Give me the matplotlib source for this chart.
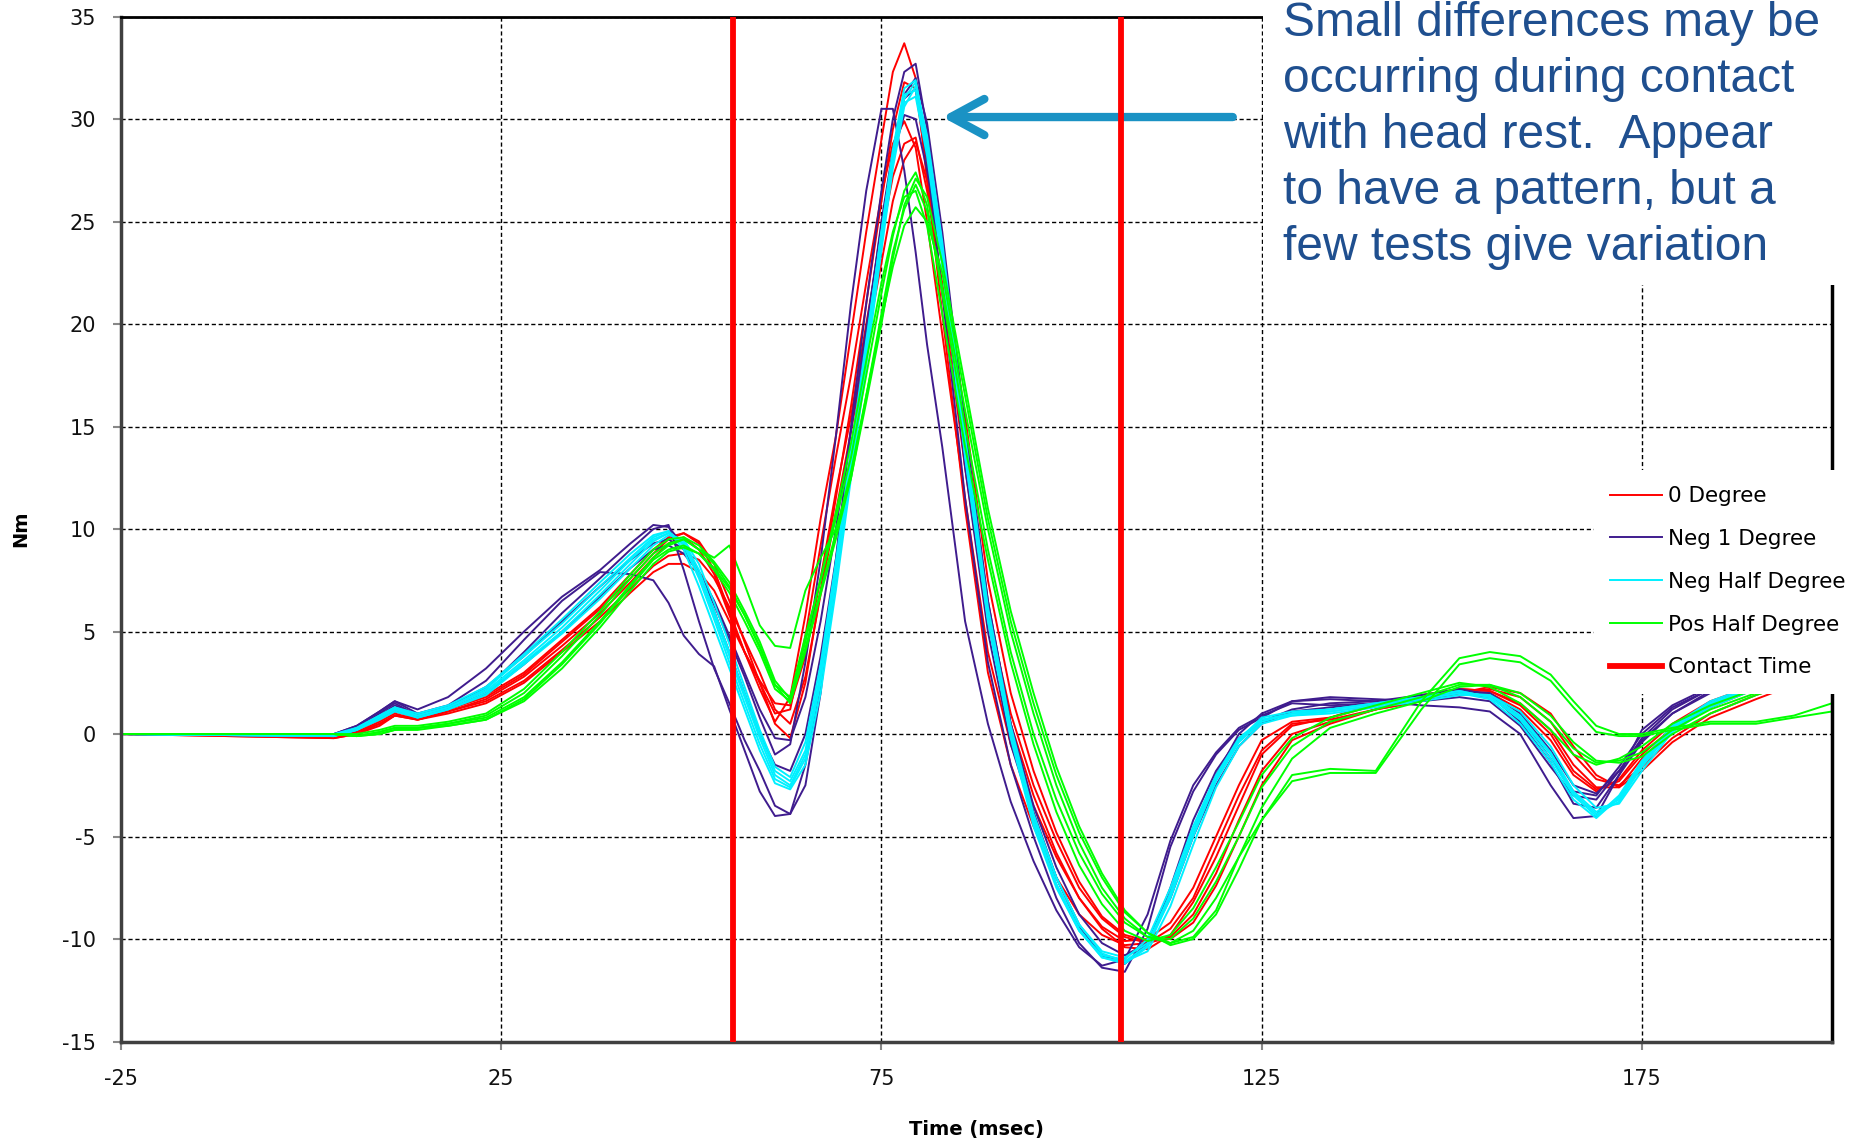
import matplotlib.pyplot as plt
from matplotlib.patches import Rectangle

plt.rcParams['axes.unicode_minus'] = False

# time axis (msec), shared by every test trace
t_ms = [-25, 3, 6, 9, 11, 14, 18, 23,
        28, 33, 38, 42, 45, 47, 49, 51,
        53, 55, 57, 59, 61, 63, 65, 67,
        69, 71, 73, 75, 76.5, 78, 79.5, 81,
        83, 86, 89, 92, 95, 98, 101, 104,
        107, 110, 113, 116, 119, 122, 125, 129,
        134, 140, 146, 151, 155, 159, 163, 166,
        169, 172, 175, 179, 184, 190, 195, 200]

# torque traces (Nm)
deg_0 = [
    [0, -0.1, 0.1, 0.6, 1.0, 0.7, 1.1, 1.7,
     2.8, 4.3, 5.9, 7.4, 8.6, 9.3, 9.6, 9.0,
     7.8, 5.8, 4.0, 2.5, 1.0, 1.2, 4.8, 9.2,
     13.5, 17.5, 22.0, 26.3, 28.8, 29.9, 28.6, 25.0,
     19.5, 11.5, 4.0, -0.5, -3.5, -6.0, -8.0, -9.4,
     -10.1, -10.0, -9.2, -7.5, -5.0, -2.5, -0.3, 0.6,
     0.8, 1.4, 1.7, 2.1, 2.0, 1.2, -0.3, -2.0,
     -2.8, -2.2, -0.8, 0.5, 1.6, 2.4, 2.8, 3.0],
    [0, -0.2, 0.0, 0.5, 0.9, 0.8, 1.2, 1.9,
     3.0, 4.6, 6.2, 7.8, 9.0, 9.6, 9.8, 9.3,
     8.0, 6.0, 4.0, 2.2, 0.6, 1.8, 5.8, 10.5,
     14.5, 19.5, 24.5, 29.0, 32.3, 33.7, 32.0, 27.0,
     20.5, 11.0, 3.0, -1.5, -4.5, -7.0, -8.8, -9.8,
     -10.3, -10.2, -9.5, -8.0, -5.5, -3.0, -0.8, 0.5,
     0.7, 1.2, 1.8, 2.2, 2.1, 1.4, 0.0, -1.8,
     -2.7, -2.3, -1.0, 0.3, 1.4, 2.2, 2.6, 2.9],
    [0, -0.1, 0.2, 0.7, 1.1, 0.8, 1.2, 1.8,
     2.9, 4.5, 6.1, 7.6, 8.8, 9.5, 9.8, 9.4,
     8.3, 6.5, 4.5, 2.5, 0.5, -0.2, 2.5, 7.0,
     11.5, 16.0, 21.0, 26.0, 29.5, 31.8, 31.5, 27.5,
     21.5, 13.0, 5.5, 0.5, -3.0, -5.8, -8.0, -9.5,
     -10.4, -10.5, -9.8, -8.2, -6.0, -3.5, -1.0, 0.4,
     0.8, 1.5, 1.9, 2.2, 2.1, 1.5, 0.2, -1.5,
     -2.6, -2.6, -1.2, 0.2, 1.3, 2.2, 2.7, 3.0],
    [0, -0.2, 0.0, 0.4, 0.9, 0.7, 1.0, 1.5,
     2.5, 4.0, 5.5, 6.9, 7.9, 8.3, 8.3, 7.9,
     7.0, 5.5, 4.0, 2.6, 1.5, 1.4, 3.8, 7.6,
     11.8, 15.5, 20.0, 24.3, 27.2, 28.8, 29.1, 26.5,
     22.0, 14.0, 6.0, 1.0, -2.5, -5.2, -7.5, -9.0,
     -9.9, -10.2, -9.9, -8.8, -6.8, -4.2, -1.8, 0.0,
     0.6, 1.2, 1.6, 2.0, 2.2, 1.8, 0.6, -1.0,
     -2.2, -2.5, -1.6, -0.2, 1.0, 1.9, 2.5, 2.9],
    [0, -0.1, 0.1, 0.5, 0.9, 0.7, 1.1, 1.6,
     2.6, 4.1, 5.7, 7.1, 8.2, 8.7, 8.8, 8.5,
     7.6, 6.2, 4.6, 3.0, 1.2, 0.5, 2.8, 6.8,
     10.8, 14.8, 19.0, 23.0, 26.0, 28.0, 28.9, 27.0,
     23.0, 15.5, 7.5, 2.0, -1.8, -4.8, -7.2, -8.9,
     -9.8, -10.1, -10.0, -9.2, -7.4, -5.0, -2.5, -0.3,
     0.5, 1.2, 1.6, 2.0, 2.3, 2.0, 1.0, -0.6,
     -2.0, -2.6, -1.8, -0.4, 0.8, 1.7, 2.4, 2.8],
]

neg_1 = [
    [0, 0.0, 0.4, 1.1, 1.6, 1.0, 1.4, 2.6,
     4.6, 6.5, 7.9, 7.8, 7.5, 6.4, 4.8, 3.9,
     3.3, 1.2, -0.8, -2.8, -4.0, -3.9, -1.5, 2.5,
     7.5, 13.5, 19.5, 25.0, 28.5, 31.0, 31.5, 28.0,
     21.5, 11.5, 3.5, -1.5, -5.0, -8.0, -10.2, -11.4,
     -11.6, -9.5, -5.5, -2.8, -1.0, 0.2, 0.8, 1.6,
     1.7, 1.6, 1.4, 1.3, 1.1, 0.0, -2.5, -4.1,
     -4.0, -2.0, 0.2, 1.4, 2.3, 2.8, 3.0, 3.1],
    [0, 0.0, 0.3, 1.0, 1.5, 0.9, 1.3, 2.2,
     4.0, 5.9, 7.6, 9.0, 10.0, 10.2, 8.0, 5.5,
     3.2, 1.5, -0.3, -1.8, -3.5, -3.9, -2.5, 2.0,
     8.5, 15.0, 21.0, 26.5, 30.0, 32.3, 32.7, 29.5,
     23.0, 13.0, 5.0, -0.5, -4.0, -7.0, -9.3, -10.8,
     -11.2, -10.2, -7.8, -4.8, -2.0, 0.0, 1.0, 1.6,
     1.8, 1.7, 1.6, 1.8, 1.6, 0.4, -1.6, -3.0,
     -3.2, -1.8, -0.2, 1.2, 2.2, 2.7, 2.9, 3.0],
    [0, 0.0, 0.4, 1.1, 1.6, 1.2, 1.8, 3.2,
     5.0, 6.7, 8.0, 9.3, 10.2, 10.1, 9.2, 7.9,
     6.3, 4.6, 2.8, 0.8, -1.0, -0.5, 3.5, 8.5,
     14.5, 21.0, 26.5, 30.5, 30.5, 27.5, 23.5, 19.0,
     14.0, 5.5, 0.5, -3.3, -6.2, -8.6, -10.4, -11.3,
     -11.0, -8.8, -5.2, -2.5, -0.9, 0.3, 0.9, 1.5,
     1.4, 1.5, 1.7, 2.0, 1.8, 0.8, -1.2, -2.8,
     -3.0, -1.6, 0.0, 1.3, 2.2, 2.7, 3.0, 3.1],
    [0, -0.1, 0.2, 0.8, 1.2, 0.8, 1.2, 2.0,
     3.4, 5.0, 6.7, 8.1, 9.0, 9.2, 8.8, 7.9,
     6.5, 4.8, 3.0, 1.2, -0.2, -0.3, 1.8, 5.5,
     10.0, 14.8, 19.8, 24.8, 28.2, 30.2, 30.0, 27.5,
     23.0, 14.5, 6.5, 0.5, -3.5, -6.5, -8.8, -10.2,
     -10.8, -10.2, -8.0, -5.0, -2.5, -0.6, 0.5, 1.1,
     1.3, 1.5, 1.8, 2.1, 2.0, 1.0, -0.8, -2.5,
     -2.9, -1.8, -0.3, 1.0, 2.0, 2.6, 2.9, 3.0],
    [0, -0.1, 0.2, 0.9, 1.4, 0.9, 1.3, 2.3,
     3.8, 5.5, 7.2, 8.5, 9.3, 9.5, 9.0, 7.8,
     6.0, 4.0, 2.0, 0.0, -1.5, -1.8, 0.0, 3.8,
     8.5, 13.8, 19.2, 24.5, 28.3, 31.2, 32.0, 29.8,
     24.5, 15.0, 6.5, 0.5, -3.8, -7.0, -9.4, -10.8,
     -11.2, -10.3, -7.5, -4.2, -1.8, -0.2, 0.6, 1.2,
     1.5, 1.6, 1.9, 2.2, 1.9, 0.6, -1.4, -3.4,
     -3.6, -2.0, -0.4, 1.0, 2.1, 2.7, 3.0, 3.1],
]

neg_half = [
    [0, -0.1, 0.2, 0.8, 1.2, 0.8, 1.2, 2.0,
     3.5, 5.0, 6.8, 8.3, 9.4, 9.8, 9.4, 8.0,
     6.0, 4.0, 2.0, 0.0, -1.8, -2.3, -0.8, 3.0,
     8.0, 13.5, 19.0, 24.5, 28.3, 31.2, 31.4, 28.5,
     23.0, 13.5, 5.5, -0.2, -4.5, -7.5, -9.6, -10.8,
     -11.0, -10.0, -7.5, -4.5, -2.0, -0.2, 0.7, 1.0,
     1.1, 1.4, 1.7, 2.0, 1.9, 0.9, -0.9, -2.8,
     -3.8, -3.2, -1.5, 0.3, 1.5, 2.3, 2.8, 3.0],
    [0, -0.1, 0.3, 0.9, 1.3, 0.9, 1.3, 2.2,
     3.8, 5.4, 7.2, 8.6, 9.6, 9.9, 9.2, 7.6,
     5.6, 3.5, 1.5, -0.5, -2.2, -2.6, -1.2, 2.5,
     7.5, 13.0, 18.5, 24.0, 28.0, 31.0, 31.8, 29.0,
     23.5, 14.0, 5.8, 0.0, -4.2, -7.3, -9.5, -10.9,
     -11.2, -10.4, -8.0, -5.0, -2.3, -0.4, 0.6, 1.0,
     1.2, 1.5, 1.8, 2.1, 1.8, 0.7, -1.2, -3.0,
     -4.0, -3.0, -1.3, 0.4, 1.6, 2.4, 2.8, 3.0],
    [0, -0.1, 0.2, 0.7, 1.1, 0.8, 1.2, 1.9,
     3.4, 4.9, 6.6, 8.1, 9.2, 9.7, 9.5, 8.3,
     6.4, 4.4, 2.3, 0.2, -1.6, -2.1, -0.4, 3.4,
     8.4, 13.8, 19.2, 24.4, 28.0, 30.8, 31.1, 28.2,
     22.8, 13.6, 5.7, 0.2, -4.0, -7.0, -9.3, -10.6,
     -10.9, -10.2, -7.8, -4.8, -2.2, -0.3, 0.7, 0.9,
     1.0, 1.3, 1.6, 1.9, 1.9, 1.1, -0.6, -2.5,
     -3.6, -3.4, -1.8, 0.1, 1.3, 2.2, 2.7, 3.0],
    [0, 0.0, 0.3, 0.9, 1.3, 1.0, 1.4, 2.3,
     3.9, 5.6, 7.4, 8.8, 9.7, 9.9, 9.0, 7.2,
     5.2, 3.2, 1.2, -0.8, -2.4, -2.7, -1.5, 2.0,
     7.0, 12.5, 18.0, 23.6, 27.6, 30.6, 31.6, 29.2,
     24.0, 14.5, 6.2, 0.4, -3.9, -7.0, -9.3, -10.7,
     -11.1, -10.6, -8.4, -5.4, -2.6, -0.6, 0.5, 0.9,
     1.1, 1.4, 1.7, 2.0, 1.7, 0.5, -1.4, -3.2,
     -4.1, -3.1, -1.4, 0.3, 1.5, 2.3, 2.8, 3.0],
    [0, -0.1, 0.2, 0.8, 1.2, 0.9, 1.3, 2.1,
     3.6, 5.2, 7.0, 8.5, 9.5, 9.8, 9.3, 7.8,
     5.8, 3.8, 1.8, -0.2, -2.0, -2.5, -1.0, 2.8,
     7.8, 13.2, 18.8, 24.5, 28.5, 31.5, 31.9, 28.8,
     23.2, 13.8, 5.6, -0.1, -4.3, -7.4, -9.6, -10.9,
     -11.1, -10.3, -7.8, -4.7, -2.1, -0.3, 0.8, 1.1,
     1.2, 1.5, 1.8, 2.1, 1.8, 0.8, -1.0, -2.9,
     -3.9, -3.3, -1.6, 0.2, 1.4, 2.3, 2.8, 3.0],
]

pos_half = [
    [0, 0.0, -0.1, 0.1, 0.3, 0.3, 0.5, 0.9,
     2.0, 3.8, 5.8, 7.6, 8.8, 9.3, 9.5, 9.0,
     8.3, 7.2, 5.8, 4.3, 2.4, 1.8, 4.8, 7.5,
     10.5, 13.5, 17.5, 21.5, 24.3, 26.5, 27.4, 25.8,
     21.5, 15.0, 9.0, 4.0, 0.0, -3.2, -5.8, -7.8,
     -9.2, -9.9, -10.0, -9.0, -7.2, -5.0, -2.6, -0.6,
     0.6, 1.2, 1.8, 2.4, 2.4, 1.8, 0.6, -0.7,
     -1.4, -1.3, -0.9, 0.2, 1.2, 2.0, 2.5, 2.9],
    [0, 0.0, -0.1, 0.1, 0.3, 0.3, 0.5, 0.8,
     1.8, 3.5, 5.5, 7.3, 8.6, 9.2, 9.5, 9.0,
     8.6, 9.2, 7.3, 5.3, 4.3, 4.2, 7.0, 8.6,
     10.0, 12.5, 16.5, 20.5, 23.5, 25.6, 26.8, 25.5,
     21.8, 15.8, 10.0, 5.0, 1.0, -2.5, -5.3, -7.5,
     -9.0, -9.9, -10.2, -9.6, -8.0, -6.0, -3.6, -1.2,
     0.3, 1.0, 1.6, 2.3, 2.4, 2.0, 0.9, -0.4,
     -1.3, -1.4, -1.1, 0.0, 1.0, 1.9, 2.5, 2.9],
    [0, 0.0, -0.1, 0.0, 0.2, 0.3, 0.4, 0.7,
     1.7, 3.4, 5.4, 7.2, 8.5, 9.0, 9.2, 8.8,
     8.0, 6.9, 5.5, 4.0, 2.2, 1.6, 4.2, 7.0,
     9.8, 12.8, 16.5, 20.2, 22.8, 24.8, 25.7, 25.0,
     22.5, 16.5, 10.5, 5.5, 1.5, -2.0, -4.8, -7.0,
     -8.7, -9.7, -10.2, -9.9, -8.6, -6.0, -4.2, -2.0,
     -1.7, -1.8, 1.6, 3.7, 4.0, 3.8, 2.9, 1.6,
     0.4, 0.0, 0.0, 0.3, 0.6, 0.6, 0.9, 1.5],
    [0, 0.0, -0.1, 0.0, 0.2, 0.2, 0.4, 0.7,
     1.6, 3.2, 5.2, 7.0, 8.3, 8.9, 9.1, 8.8,
     8.1, 7.1, 5.8, 4.2, 2.4, 1.5, 4.0, 6.8,
     9.5, 12.5, 16.2, 20.0, 23.2, 25.8, 27.1, 26.2,
     23.0, 17.0, 11.0, 6.0, 2.0, -1.6, -4.5, -6.8,
     -8.6, -9.7, -10.3, -10.0, -8.8, -6.6, -4.2, -2.3,
     -1.9, -1.9, 1.2, 3.4, 3.7, 3.5, 2.6, 1.3,
     0.1, -0.1, -0.1, 0.2, 0.5, 0.5, 0.8, 1.1],
    [0, 0.0, 0.0, 0.2, 0.4, 0.4, 0.6, 1.0,
     2.2, 4.0, 6.0, 7.8, 9.0, 9.5, 9.6, 9.2,
     8.4, 7.4, 6.0, 4.5, 2.6, 1.7, 4.5, 7.6,
     10.8, 14.2, 18.2, 22.0, 24.5, 26.2, 26.5, 24.8,
     20.5, 14.0, 8.5, 3.5, -0.5, -3.8, -6.4, -8.3,
     -9.6, -10.1, -9.8, -8.5, -6.5, -4.3, -2.0, -0.2,
     0.8, 1.4, 2.0, 2.5, 2.3, 1.5, 0.2, -1.0,
     -1.5, -1.2, -0.6, 0.5, 1.4, 2.2, 2.7, 3.0],
]

contact_times = [55.5, 106.5]

series_labels = ['0 Degree', 'Neg 1 Degree', 'Neg Half Degree', 'Pos Half Degree', 'Contact Time']
series_colors = ['#FF0000', '#3F1C8E', '#00F0FF', '#00FF00']

note_lines = ['Small differences may be',
              'occurring during contact',
              'with head rest.  Appear',
              'to have a pattern, but a',
              'few tests give variation']

W, H = 1860, 1140
fig = plt.figure(figsize=(W / 100, H / 100), dpi=100)
ax = fig.add_axes([121 / W, 1 - 1041.5 / H, (1832 - 121) / W, (1041.5 - 16.6) / H])

for curves, color, label in zip([deg_0, neg_1, neg_half, pos_half], series_colors, series_labels):
    for i, y in enumerate(curves):
        ax.plot(t_ms, y, color=color, lw=1.4, label=label if i == 0 else None)

for i, tc in enumerate(contact_times):
    ax.axvline(tc, color='#FF0000', lw=4.2, zorder=4,
               label=series_labels[4] if i == 0 else None)

ax.set_xlim(-25, 200)
ax.set_ylim(-15, 35)
ax.set_xticks([-25, 25, 75, 125, 175])
ax.set_yticks(range(-15, 36, 5))
ax.grid(True, color='black', linestyle=(0, (3, 2)), linewidth=1.0)
ax.set_axisbelow(True)

for side in ['left', 'bottom']:
    ax.spines[side].set_color('#404040')
    ax.spines[side].set_linewidth(2.5)
ax.spines['top'].set_color('black')
ax.spines['top'].set_linewidth(2)
ax.spines['right'].set_color('black')
ax.spines['right'].set_linewidth(2.5)

ax.tick_params(axis='both', direction='out', length=6, width=1.5, color='#888888',
               labelsize=15, labelcolor='#111111')
ax.tick_params(axis='y', pad=12)
ax.tick_params(axis='x', pad=14)

ax.set_xlabel('Time (msec)', fontsize=14, fontweight='bold', labelpad=22)
ax.set_ylabel('Nm', fontsize=14, fontweight='bold', labelpad=23)

# arrow pointing at the peak
ax.annotate('', xy=(83.0, 30.1), xytext=(121.2, 30.1),
            arrowprops=dict(arrowstyle='->,head_length=1.2,head_width=0.65',
                            color='#1A92C4', lw=6, mutation_scale=20,
                            shrinkA=0, shrinkB=0))

ax.legend(loc='upper left', bbox_to_anchor=(1594 / W, 1 - 470 / H),
          bbox_transform=fig.transFigure, fontsize=15.5, frameon=True,
          facecolor='white', edgecolor='none', framealpha=1, fancybox=False,
          handlelength=2.4, handletextpad=0.3, labelspacing=1.06,
          borderpad=0.75, borderaxespad=0)

# white text box in the top-right corner
fig.add_artist(Rectangle((1263 / W, 1 - 285 / H), 1, 1, transform=fig.transFigure,
                         facecolor='white', edgecolor='none', zorder=5))
for k, line in enumerate(note_lines):
    fig.text(1283 / W, 1 - (36 + 56.1 * k) / H, line, ha='left', va='baseline',
             fontsize=34.5, family='Liberation Sans', color='#1F4F8F', zorder=6)

fig.savefig('out.png', dpi=100)
